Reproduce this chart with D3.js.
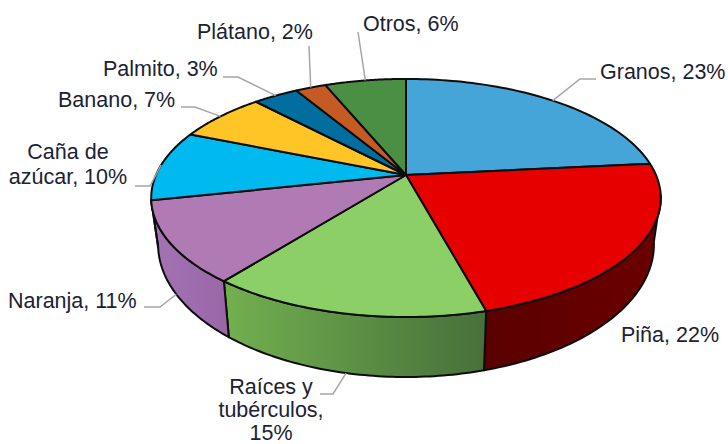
<!DOCTYPE html>
<html lang="es">
<head>
<meta charset="UTF-8">
<title>Cultivos</title>
<script src="https://d3js.org/d3.v7.min.js"></script>
<style>
  html, body { margin: 0; padding: 0; background: #fff; }
  text { font-family: "Liberation Sans", Arial, sans-serif; font-size: 21.5px; fill: #1b2233; }
</style>
</head>
<body>
<div id="chart"></div>
<script>
// slices clockwise from 12 o'clock. shares are estimates from the drawn angles, they round to the printed labels
const names = ["Granos", "Piña", "Raíces y tubérculos", "Naranja", "Caña de azúcar", "Banano", "Palmito", "Plátano", "Otros"]
const shares = [23.4, 22.4, 14.8, 11, 9.6, 6.8, 3.45, 2.35, 6.2]
const labels = [
  ["Granos, 23%"], ["Piña, 22%"], ["Raíces y", "tubérculos,", "15%"], ["Naranja, 11%"],
  ["Caña de", "azúcar, 10%"], ["Banano, 7%"], ["Palmito, 3%"], ["Plátano, 2%"], ["Otros, 6%"]
]
const topColors = ["#45a5d9", "#e60000", "#8ccf66", "#b07ab4", "#00b9ee", "#ffc425", "#026d9f", "#c55a24", "#4b8f45"]

// wall gradients, only the slices facing the viewer have a visible side
const wallColors = { 1: ["#5a0000", "#6b0000"], 2: ["#72b04f", "#47703a"], 3: ["#a273b4", "#9a67a6"] }

// label placement: text anchor point, line height, leader elbow and end (null = no leader)
const labelPos = [
  { x: 600, y: 79, anchor: "start", gap: 0, leader: [[580, 79], [596, 79]] },
  { x: 621, y: 342, anchor: "start", gap: 0, leader: null },
  { x: 271, y: 394, anchor: "middle", gap: 23, leader: [[333, 394], [320, 394]] },
  { x: 8, y: 308, anchor: "start", gap: 0, leader: [[160, 307], [144, 307]] },
  { x: 68, y: 159, anchor: "middle", gap: 25, leader: [[150, 186], [135, 186]] },
  { x: 58, y: 107, anchor: "start", gap: 0, leader: [[195, 107], [181, 107]] },
  { x: 103, y: 76, anchor: "start", gap: 0, leader: [[238, 77], [223, 77]] },
  { x: 197, y: 39, anchor: "start", gap: 0, leader: [[309, 46]] },
  { x: 363, y: 31, anchor: "start", gap: 0, leader: [[358, 32]] }
]

const width = 728
const height = 444

// perspective of the disc: the pie centre sits above the middle of the ellipse
const cx = 406, cy = 175
const ax = 250, by = 114.6, k = -0.193
const wallFrom = 100 * Math.PI / 180
const wallTo = 258 * Math.PI / 180

function topPoint(a) {
  const u = Math.sin(a), v = -Math.cos(a)
  const d = 1 + k * v
  return [cx + ax * u / d, cy + by * v / d]
}
function bottomPoint(a) {
  const p = topPoint(a)
  return [cx + 0.973 * (p[0] - cx), p[1] + 56 + 0.114 * (p[1] - 282)]
}
function arcAngles(a0, a1) {
  return d3.range(0, 61).map(i => a0 + (a1 - a0) * i / 60)
}

const pie = d3.pie().sort(null).value(d => d)
const arcs = pie(shares)
const line = d3.line()

const svg = d3.select("#chart").append("svg")
  .attr("width", width)
  .attr("height", height)
  .style("display", "block")

const defs = svg.append("defs")
Object.keys(wallColors).forEach(i => {
  const g = defs.append("linearGradient").attr("id", "wall" + i)
  g.append("stop").attr("offset", 0).attr("stop-color", wallColors[i][0])
  g.append("stop").attr("offset", 1).attr("stop-color", wallColors[i][1])
})

// side walls
svg.append("g").selectAll("path")
  .data(arcs.filter(d => d.endAngle > wallFrom && d.startAngle < wallTo))
  .join("path")
  .attr("d", d => {
    const a0 = Math.max(d.startAngle, wallFrom), a1 = Math.min(d.endAngle, wallTo)
    const angles = arcAngles(a0, a1)
    return line(angles.map(topPoint).concat(angles.reverse().map(bottomPoint))) + "Z"
  })
  .attr("fill", d => "url(#wall" + d.index + ")")
  .attr("stroke", "#0d0d0d")
  .attr("stroke-width", 2)
  .attr("stroke-linejoin", "round")

// top of the disc
svg.append("g").selectAll("path")
  .data(arcs)
  .join("path")
  .attr("d", d => line([[cx, cy]].concat(arcAngles(d.startAngle, d.endAngle).map(topPoint))) + "Z")
  .attr("fill", d => topColors[d.index])
  .attr("stroke", "#0d0d0d")
  .attr("stroke-width", 2)
  .attr("stroke-linejoin", "round")

// leader lines start at the middle of each slice, on the wall where there is one
svg.append("g").selectAll("path")
  .data(arcs.filter(d => labelPos[d.index].leader))
  .join("path")
  .attr("d", d => {
    const mid = (d.startAngle + d.endAngle) / 2
    const start = (mid > wallFrom && mid < wallTo && d.index != 4) ? bottomPoint(mid) : topPoint(mid)
    return line([start].concat(labelPos[d.index].leader))
  })
  .attr("fill", "none")
  .attr("stroke", "#a6a6a6")
  .attr("stroke-width", 1.5)

const labelG = svg.append("g")
labels.forEach((lines, i) => {
  const pos = labelPos[i]
  lines.forEach((s, j) => {
    labelG.append("text")
      .attr("x", pos.x)
      .attr("y", pos.y + j * pos.gap)
      .attr("text-anchor", pos.anchor)
      .text(s)
  })
})
</script>
</body>
</html>
